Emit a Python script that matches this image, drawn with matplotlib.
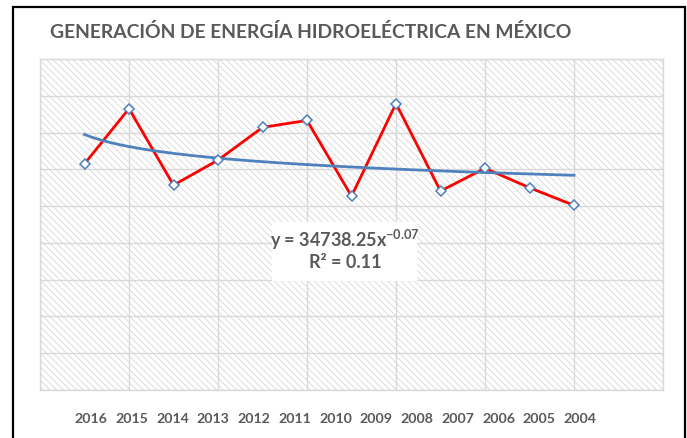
import numpy as np
import matplotlib
matplotlib.use("Agg")
import matplotlib.pyplot as plt
from matplotlib.patches import Rectangle

# Hydroelectric generation series (x = position index, y = generation)
x_index = [1, 2, 3, 4, 5, 6, 7, 8, 9, 10, 11, 12]
generation = [30750, 38250, 27850, 31250, 35700, 36650, 26350, 38950, 27050, 30150, 27500, 25100]
year_labels = ["2016", "2015", "2014", "2013", "2012", "2011", "2010",
               "2009", "2008", "2007", "2006", "2005", "2004"]

# Power trendline coefficients
trend_a = 34738.25
trend_b = -0.07
trend_r2 = 0.11

W, H = 687, 439
plt.rcParams["hatch.linewidth"] = 0.6
plt.rcParams["mathtext.fontset"] = "custom"
plt.rcParams["mathtext.rm"] = "Lato:bold"
plt.rcParams["mathtext.it"] = "Lato:bold"
plt.rcParams["mathtext.bf"] = "Lato:bold"

fig = plt.figure(figsize=(W / 100, H / 100), dpi=100)
fig.patch.set_facecolor("white")

def fx(px):
    return px / W

def fy(py):
    return 1 - py / H

# chart frame
fig.patches.append(Rectangle((fx(13), fy(460)), fx(685) - fx(13), fy(8) - fy(460),
                             transform=fig.transFigure, fill=False,
                             edgecolor="black", linewidth=1.6, zorder=0))

ax = fig.add_axes([fx(40), fy(391), fx(663) - fx(40), fy(60) - fy(391)])
ax.set_xlim(0, 14)
ax.set_ylim(0, 45000)
ax.set_facecolor("white")
ax.add_patch(Rectangle((0, 0), 1, 1, transform=ax.transAxes, facecolor="white",
                       edgecolor="#d6d6d6", linewidth=0, hatch="\\\\\\\\\\",
                       zorder=0))
ax.set_xticks(np.arange(0, 15, 2))
ax.set_yticks(np.arange(0, 45001, 5000))
ax.grid(True, color="#d9d9d9", linewidth=1.0, zorder=1)
ax.tick_params(length=0, labelbottom=False, labelleft=False)
for s in ax.spines.values():
    s.set_color("#d9d9d9")
    s.set_linewidth(1.0)

ax.plot(x_index, generation, color="#ff0000", linewidth=2.0, zorder=3)

xt = np.linspace(min(x_index), max(x_index), 200)
ax.plot(xt, trend_a * xt ** trend_b, color="#4f81bd", linewidth=2.0, zorder=4)

ax.plot(x_index, generation, linestyle="none", marker="D", markersize=5,
        markerfacecolor="white", markeredgecolor="#4f81bd", markeredgewidth=1.1,
        zorder=5)

# equation box
ax.add_patch(Rectangle((fx(272), fy(282)), fx(417) - fx(272), fy(223) - fy(282),
                       transform=fig.transFigure, facecolor="white",
                       edgecolor="none", zorder=6))
fig.text(fx(345), fy(240), "y = %.2fx$^{%.2f}$" % (trend_a, trend_b),
         ha="center", va="center", fontsize=13, fontweight="bold",
         family="Lato", color="#595959", zorder=7)
fig.text(fx(345), fy(263), "R² = %.2f" % trend_r2,
         ha="center", va="center", fontsize=13, fontweight="bold",
         family="Lato", color="#595959", zorder=7)

fig.text(fx(50), fy(32), "GENERACIÓN DE ENERGÍA HIDROELÉCTRICA EN MÉXICO",
         ha="left", va="center", fontsize=13.9, fontweight="bold",
         family="Lato", color="#595959")

for px, lab in zip(np.linspace(91, 580, len(year_labels)), year_labels):
    fig.text(fx(px), fy(419), lab, ha="center", va="center", fontsize=10.2,
             fontweight="bold", family="Lato", color="#595959")

fig.savefig("out.png", dpi=100, facecolor="white")
